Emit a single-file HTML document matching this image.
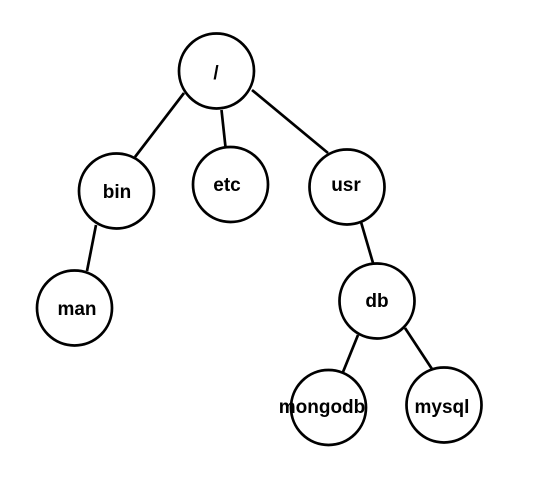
<!DOCTYPE html>
<html><head><style>html,body{margin:0;padding:0;background:#fff;}svg{display:block}</style></head>
<body>
<svg width="543" height="479" xmlns="http://www.w3.org/2000/svg">
<g stroke="#000" stroke-width="2.7" fill="none">
<line x1="184" y1="93" x2="135" y2="157"/>
<line x1="221.5" y1="110" x2="225.5" y2="147"/>
<line x1="252" y1="90" x2="328" y2="153"/>
<line x1="96" y1="225" x2="87" y2="271"/>
<line x1="361" y1="222" x2="373" y2="263"/>
<line x1="358" y1="335" x2="343" y2="372"/>
<line x1="405" y1="328" x2="432" y2="369"/>
<circle cx="216.5" cy="71" r="37.5"/>
<circle cx="116.5" cy="191" r="37.5"/>
<circle cx="230.5" cy="184.5" r="37.5"/>
<circle cx="347" cy="187" r="37.5"/>
<circle cx="74.5" cy="308" r="37.5"/>
<circle cx="377" cy="301" r="37.5"/>
<circle cx="328.5" cy="407.5" r="37.5"/>
<circle cx="444" cy="405" r="37.5"/>
</g>
<g font-family="Liberation Sans, sans-serif" font-weight="bold" font-size="19" text-anchor="middle" fill="#000">
<text x="216" y="79">/</text>
<text x="117" y="198">bin</text>
<text x="227" y="191">etc</text>
<text x="346" y="191">usr</text>
<text x="77" y="315">man</text>
<text x="377" y="307">db</text>
<text x="322" y="413">mongodb</text>
<text x="442" y="413">mysql</text>
</g>
</svg>
</body></html>
